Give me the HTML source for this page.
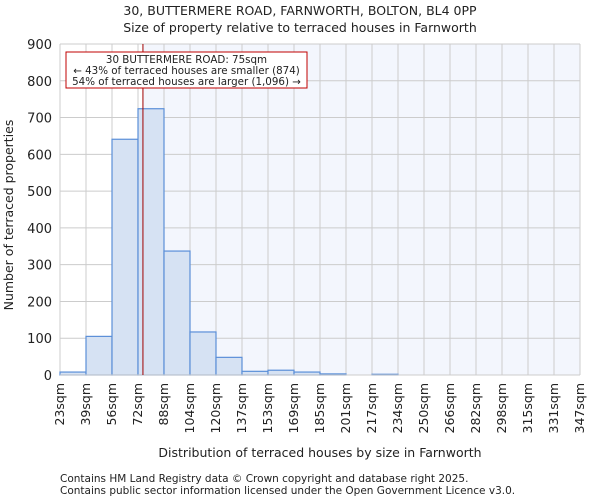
<!DOCTYPE html>
<html><head><meta charset="utf-8"><style>
body{margin:0;background:#fff;font-family:"DejaVu Sans","Liberation Sans",sans-serif;}
svg text{font-family:"DejaVu Sans","Liberation Sans",sans-serif;fill:#222;}
</style></head><body>
<svg id="c" width="600" height="500" xmlns="http://www.w3.org/2000/svg">
<text x="300" y="15" text-anchor="middle" font-size="12.5">30, BUTTERMERE ROAD, FARNWORTH, BOLTON, BL4 0PP</text>
<text x="300" y="32" text-anchor="middle" font-size="12.5">Size of property relative to terraced houses in Farnworth</text>
<text x="13" y="215" text-anchor="middle" font-size="12.5" transform="rotate(-90 13 215)">Number of terraced properties</text>
<text x="320" y="457" text-anchor="middle" font-size="12.5">Distribution of terraced houses by size in Farnworth</text>
<text x="60" y="482" font-size="10.5">Contains HM Land Registry data © Crown copyright and database right 2025.</text>
<text x="60" y="494" font-size="10.5">Contains public sector information licensed under the Open Government Licence v3.0.</text>
</svg>
<script>
const edges=[23,39,56,72,88,104,120,137,153,169,185,201,217,234,250,266,282,298,315,331,347];
const counts=[8,105,641,724,337,117,48,10,13,8,3,0,2,0,0,0,0,0,0,0];
const yTicks=[0,100,200,300,400,500,600,700,800,900];
const subjectIndex=3.19;
const X0=60,X1=580,Y0=375,Y1=44,YMAX=900;
const bw=(X1-X0)/counts.length;
const xs=i=>X0+i*bw;
const ys=v=>Y0-(v/YMAX)*(Y0-Y1);
const svg=document.getElementById('c');
const NS='http://www.w3.org/2000/svg';
function mk(t,a,p){const e=document.createElementNS(NS,t);for(const k in a)e.setAttribute(k,a[k]);(p||svg).appendChild(e);return e;}
const sx=xs(subjectIndex);
let r=mk('rect',{x:X0,y:Y1,width:sx-X0,height:Y0-Y1,fill:'#ffffff'});


r=mk('rect',{x:sx,y:Y1,width:X1-sx,height:Y0-Y1,fill:'#f3f6fd'});


yTicks.forEach(v=>{
 const l=mk('line',{x1:X0,x2:X1,y1:ys(v),y2:ys(v),stroke:'#cccccc','stroke-width':1});
 
 
 const t=mk('text',{x:X0-8,y:ys(v)+5,'text-anchor':'end','font-size':13});
 t.textContent=v;
 
 
});
edges.forEach((e,i)=>{
 const l=mk('line',{x1:xs(i),x2:xs(i),y1:Y1,y2:Y0,stroke:'#cccccc','stroke-width':1});
 
 
 const x=xs(i)+4,y=Y0+8;
 const t=mk('text',{x:x,y:y,'text-anchor':'end','font-size':12.5,transform:`rotate(-90 ${x} ${y})`});
 t.textContent=e+'sqm';
 
 
});
counts.forEach((c,i)=>{
 const b=mk('rect',{x:xs(i),y:ys(c),width:bw,height:Y0-ys(c),fill:'#d6e2f3',stroke:'#5b8fd8','stroke-width':1.2});
 
 
});
let ax=mk('line',{x1:X0,x2:X1,y1:Y0,y2:Y0,stroke:'#cccccc','stroke-width':1});


const ml=mk('line',{x1:sx,x2:sx,y1:Y1,y2:Y0,stroke:'#a00000','stroke-width':1});


const g=mk('g',{});


mk('rect',{x:66,y:52,width:241,height:36,fill:'#fff',stroke:'#c00000','stroke-width':1},g);
['30 BUTTERMERE ROAD: 75sqm','← 43% of terraced houses are smaller (874)','54% of terraced houses are larger (1,096) →'].forEach((s,i)=>{
 const t=mk('text',{x:186.5,y:63+i*11,'text-anchor':'middle','font-size':10.3},g);
 t.textContent=s;
 
 
});
</script>
</body></html>
